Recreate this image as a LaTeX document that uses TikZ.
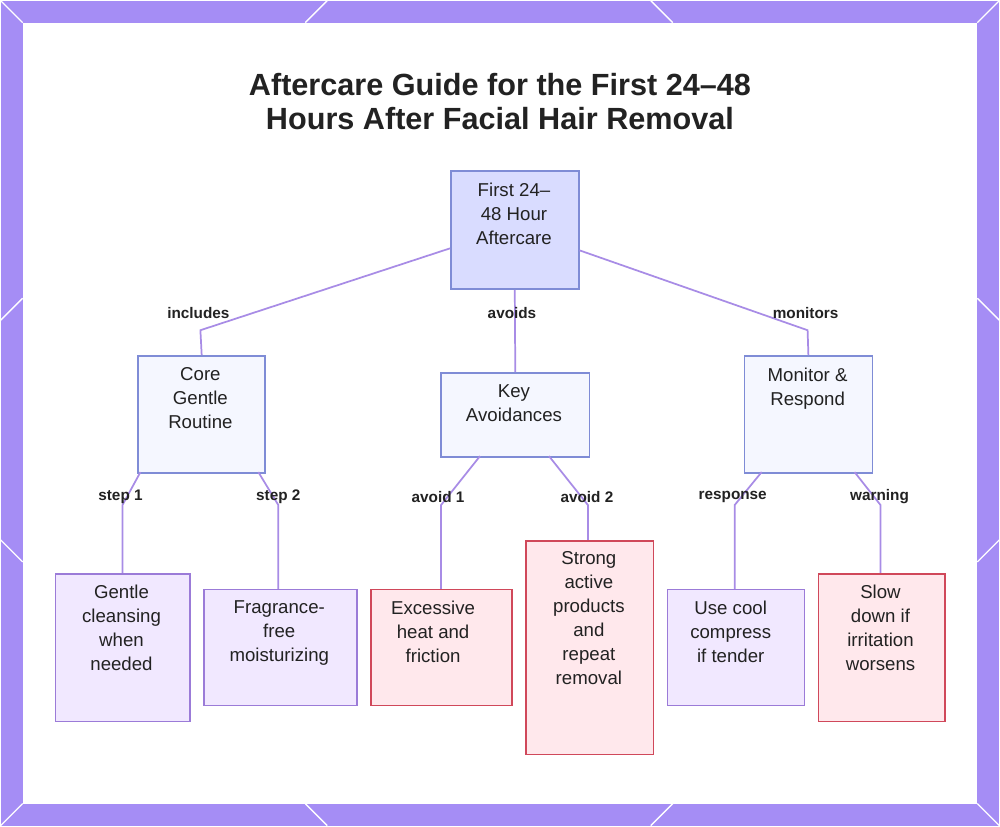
\documentclass[tikz,border=0pt]{standalone}
\usepackage{fontspec}
\setmainfont{Liberation Sans}
\definecolor{frame}{HTML}{A58DF5}
\definecolor{ln}{HTML}{A88CE6}
\definecolor{bb}{HTML}{7F8CD6}
\definecolor{rootf}{HTML}{D9DCFF}
\definecolor{midf}{HTML}{F5F7FF}
\definecolor{lavf}{HTML}{F1E8FF}
\definecolor{lavb}{HTML}{9B7BD8}
\definecolor{redf}{HTML}{FFE8EC}
\definecolor{redb}{HTML}{D0485A}
\definecolor{txt}{HTML}{222222}
\begin{document}
\begin{tikzpicture}[x=0.75pt,y=-0.75pt,
  box/.style={draw, line width=1.2pt, text=txt, font=\fontsize{14}{18}\selectfont, align=center, inner sep=0pt},
  rootb/.style={box, fill=rootf, draw=bb},
  midb/.style={box, fill=midf, draw=bb},
  lav/.style={box, fill=lavf, draw=lavb},
  red/.style={box, fill=redf, draw=redb},
  lab/.style={font=\bfseries\fontsize{11.5}{14}\selectfont, text=txt},
  con/.style={draw=ln, line width=1.3pt}]
\fill[frame] (0,0) rectangle (1000,826);
\fill[white] (22,22) rectangle (978,804);
\foreach \a/\b/\c/\d in {0/0/22/22, 1000/0/978/22, 0/826/22/804, 1000/826/978/804,
  305/22/327/0, 673/22/651/0, 305/804/327/826, 673/804/651/826,
  0/320/22/298, 1000/320/978/298, 0/540/22/562, 1000/540/978/562}
  \draw[white, line width=1pt] (\a,\b) -- (\c,\d);
\node[font=\bfseries\fontsize{23}{26}\selectfont, text=txt, align=center] (title) at (500,101) {Aftercare Guide for the First 24–48\\Hours After Facial Hair Removal};
% nodes
\node[rootb, minimum width=128*0.75pt, minimum height=118*0.75pt, anchor=north west] (root) at (450,170) {};
\node[text=txt, font=\fontsize{14}{18}\selectfont, align=center, anchor=north] at (514,178) {First 24–\\48 Hour\\Aftercare};
\node[midb, minimum width=127*0.75pt, minimum height=117*0.75pt, anchor=north west] (core) at (137,355) {};
\node[text=txt, font=\fontsize{14}{18}\selectfont, align=center, anchor=north] at (200,363) {Core\\Gentle\\Routine};
\node[midb, minimum width=149*0.75pt, minimum height=84*0.75pt, anchor=north west] (key) at (440,372) {};
\node[text=txt, font=\fontsize{14}{18}\selectfont, align=center, anchor=north] at (514,380) {Key\\Avoidances};
\node[midb, minimum width=128*0.75pt, minimum height=117*0.75pt, anchor=north west] (mon) at (744,355) {};
\node[text=txt, font=\fontsize{14}{18}\selectfont, align=center, anchor=north] at (808,363) {Monitor \&\\Respond};
\node[lav, minimum width=135*0.75pt, minimum height=148*0.75pt, anchor=north west] (l1) at (54,573) {};
\node[text=txt, font=\fontsize{14}{18}\selectfont, align=center, anchor=north] at (121,580) {Gentle\\cleansing\\when\\needed};
\node[lav, minimum width=153*0.75pt, minimum height=116*0.75pt, anchor=north west] (l2) at (203,589) {};
\node[text=txt, font=\fontsize{14}{18}\selectfont, align=center, anchor=north] at (279,596) {Fragrance-\\free\\moisturizing};
\node[red, minimum width=141*0.75pt, minimum height=116*0.75pt, anchor=north west] (l3) at (370,589) {};
\node[text=txt, font=\fontsize{14}{18}\selectfont, align=center, anchor=north] at (433,596) {Excessive\\heat and\\friction};
\node[red, minimum width=128*0.75pt, minimum height=214*0.75pt, anchor=north west] (l4) at (525,540) {};
\node[text=txt, font=\fontsize{14}{18}\selectfont, align=center, anchor=north] at (589,547) {Strong\\active\\products\\and\\repeat\\removal};
\node[lav, minimum width=137*0.75pt, minimum height=116*0.75pt, anchor=north west] (l5) at (667,589) {};
\node[text=txt, font=\fontsize{14}{18}\selectfont, align=center, anchor=north] at (731,596) {Use cool\\compress\\if tender};
\node[red, minimum width=127*0.75pt, minimum height=148*0.75pt, anchor=north west] (l6) at (818,573) {};
\node[text=txt, font=\fontsize{14}{18}\selectfont, align=center, anchor=north] at (881,580) {Slow\\down if\\irritation\\worsens};
% connectors
\coordinate (c1) at (200,330); \coordinate (c3) at (808,330);
\draw[con] (root.west |- 0,248) -- (c1) -- (core.north);
\draw[con] (root.south) -- (key.north);
\draw[con] (root.east |- 0,250) -- (c3) -- (mon.north);
\coordinate (d1) at (122,505); \coordinate (d2) at (278,505);
\coordinate (d3) at (441,505); \coordinate (d4) at (588,505);
\coordinate (d5) at (735,505); \coordinate (d6) at (881,505);
\draw[con] (140,472) -- (d1) -- (d1 |- l1.north);
\draw[con] (258,472) -- (d2) -- (d2 |- l2.north);
\draw[con] (480,456) -- (d3) -- (d3 |- l3.north);
\draw[con] (549,456) -- (d4) -- (d4 |- l4.north);
\draw[con] (762,472) -- (d5) -- (d5 |- l5.north);
\draw[con] (855,472) -- (d6) -- (d6 |- l6.north);
% labels
\node[lab] (t1) at (198,313) {includes};
\node[lab] (t2) at (512,313) {avoids};
\node[lab] (t3) at (806,313) {monitors};
\node[lab] (s1) at (120,497) {step 1};
\node[lab] (s2) at (278,497) {step 2};
\node[lab] (s3) at (438,497) {avoid 1};
\node[lab] (s4) at (587,497) {avoid 2};
\node[lab] (s5) at (733,497) {response};
\node[lab] (s6) at (880,497) {warning};
\end{tikzpicture}
\end{document}
